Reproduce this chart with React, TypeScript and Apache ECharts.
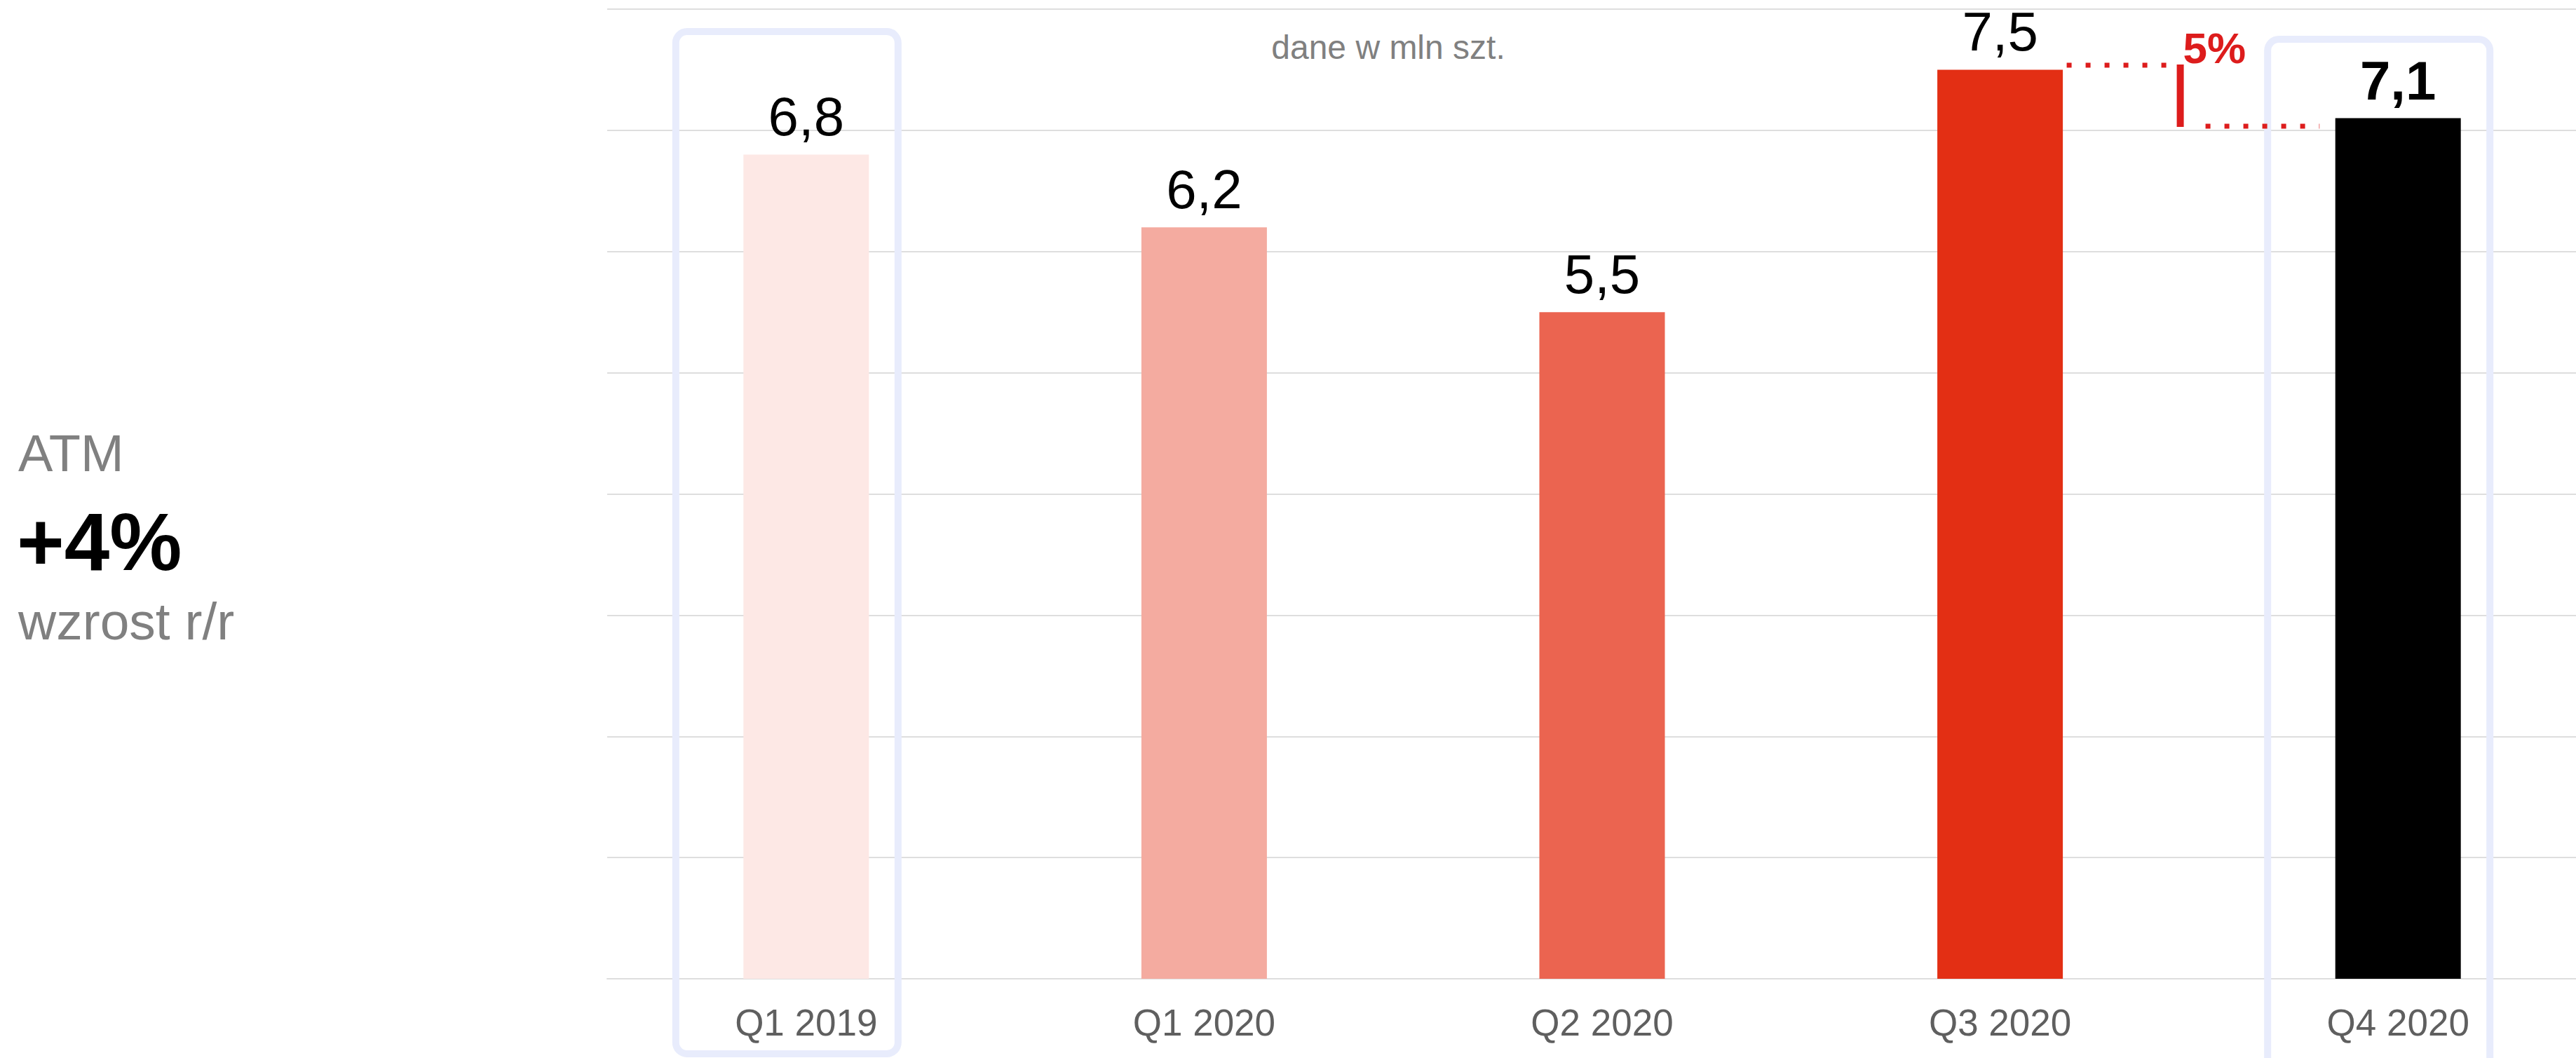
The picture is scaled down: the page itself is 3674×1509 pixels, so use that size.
import React, { useEffect, useRef } from "react";
import * as echarts from "echarts";

const categories = ["Q1 2019", "Q1 2020", "Q2 2020", "Q3 2020", "Q4 2020"];
const values = [6.8, 6.2, 5.5, 7.5, 7.1];
const barColors = ["#fde8e5", "#f4aba0", "#eb6450", "#e32f14", "#000000"];
const yTicks = [0, 1, 2, 3, 4, 5, 6, 7, 8];
const highlighted = ["Q1 2019", "Q4 2020"];
const changeLabel = "5%";
const sideTitle = "ATM";
const sideValue = "+4%";
const sideSub = "wzrost r/r";
const unitNote = "dane w mln szt.";

const FONT = "'Liberation Sans', Arial, sans-serif";

export default function App() {
  const ref = useRef<HTMLDivElement>(null);
  useEffect(() => {
    if (!ref.current) return;
    const chart = echarts.init(ref.current, null, { renderer: "svg" });
    const fmt = (v: number) => v.toFixed(1).replace(".", ",");
    chart.setOption({
      animation: false,
      backgroundColor: "#ffffff",
      grid: {
        left: 866,
        top: 13,
        width: 2838,
        height: 1383,
        containLabel: false,
        outerBoundsMode: "none",
      },
      xAxis: {
        type: "category",
        data: categories,
        axisLine: { show: true, lineStyle: { color: "#dedede", width: 2 } },
        axisTick: { show: false },
        axisLabel: { color: "#5f5f5f", fontSize: 53, fontFamily: FONT, margin: 36 },
      },
      yAxis: {
        type: "value",
        min: yTicks[0],
        max: yTicks[yTicks.length - 1],
        interval: 1,
        axisLabel: { show: false },
        axisLine: { show: false },
        axisTick: { show: false },
        splitLine: { lineStyle: { color: "#dedede", width: 2 } },
      },
      series: [
        {
          type: "bar",
          barWidth: 179,
          z: 3,
          data: values.map((v, i) => ({
            value: v,
            itemStyle: { color: barColors[i] },
            label: {
              show: true,
              position: "top",
              distance: 15,
              formatter: () => fmt(v),
              color: "#000",
              fontSize: 78,
              fontFamily: FONT,
              fontWeight: i === values.length - 1 ? "bold" : "normal",
            },
          })),
        },
      ],
    });

    const px = (cat: string) => chart.convertToPixel({ xAxisIndex: 0 }, cat) as number;
    const py = (v: number) => chart.convertToPixel({ yAxisIndex: 0 }, v) as number;
    const boxTops = [45, 56];
    const boxHeights = [1458, 1480];
    const boxes = highlighted.map((c, i) => ({
      type: "rect",
      z: 5,
      shape: { x: px(c) - 186, y: boxTops[i], width: 317, height: boxHeights[i], r: 16 },
      style: { fill: "none", stroke: "#e8ecfc", lineWidth: 10 },
    }));
    const q3x = px(categories[3]);
    const q4x = px(categories[4]);
    const y1 = py(values[3]) - 6.5;
    const y2 = py(values[4]) + 11.5;
    const red = "#dd1c1c";
    const annot = [
      {
        type: "line",
        z: 6,
        shape: { x1: q3x + 95, y1, x2: q3x + 240, y2: y1 },
        style: { stroke: red, lineWidth: 7, lineDash: [7, 20] },
      },
      {
        type: "line",
        z: 6,
        shape: { x1: q3x + 257, y1: y1 - 1, x2: q3x + 257, y2: y2 + 1 },
        style: { stroke: red, lineWidth: 10 },
      },
      {
        type: "line",
        z: 6,
        shape: { x1: q3x + 293, y1: y2, x2: q4x - 112, y2 },
        style: { stroke: red, lineWidth: 7, lineDash: [7, 20] },
      },
      {
        type: "text",
        z: 6,
        x: q3x + 261,
        y: y1 - 24,
        style: {
          text: changeLabel,
          fill: red,
          font: `bold 62px ${FONT}`,
          textAlign: "left",
          textVerticalAlign: "middle",
        },
      },
    ];
    const texts = [
      {
        type: "text",
        x: 1980,
        y: 67,
        style: { text: unitNote, fill: "#808080", font: `48px ${FONT}`, textAlign: "center", textVerticalAlign: "middle" },
      },
      {
        type: "text",
        x: 26,
        y: 646,
        style: { text: sideTitle, fill: "#808080", font: `74px ${FONT}`, textAlign: "left", textVerticalAlign: "middle" },
      },
      {
        type: "text",
        x: 24,
        y: 773,
        style: { text: sideValue, fill: "#000000", font: `bold 116px ${FONT}`, textAlign: "left", textVerticalAlign: "middle" },
      },
      {
        type: "text",
        x: 26,
        y: 886,
        style: { text: sideSub, fill: "#808080", font: `75px ${FONT}`, textAlign: "left", textVerticalAlign: "middle" },
      },
    ];
    chart.setOption({ graphic: [...boxes, ...annot, ...texts] });
    return () => chart.dispose();
  }, []);
  return (
    <div
      ref={ref}
      style={{ position: "absolute", left: 0, top: 0, width: 3674, height: 1509 }}
    />
  );
}
